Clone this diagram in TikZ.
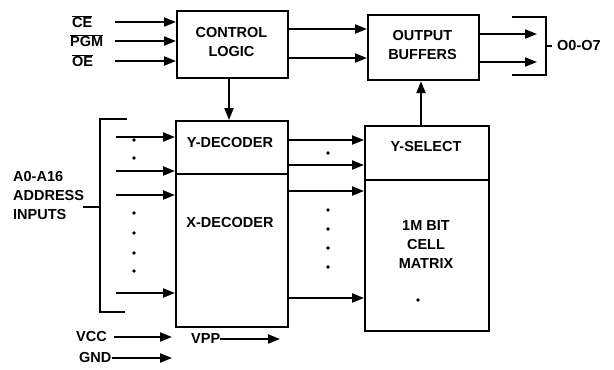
\documentclass[tikz,border=0pt]{standalone}
\usepackage{fontspec}
\setmainfont{Liberation Sans}
\usetikzlibrary{arrows.meta,calc}
\newcommand{\ovl}[1]{\(\overline{\hbox{#1}}\)}
\begin{document}
\begin{tikzpicture}[x=1pt,y=-1pt,
  every node/.style={font=\fontsize{14.5}{19}\selectfont\bfseries, inner sep=0pt},
  box/.style={draw, line width=2.2pt, anchor=north west, align=center},
  arr/.style={line width=2.2pt, -{Triangle[length=12pt,width=9pt]}},
  ln/.style={line width=2pt},
  dot/.style={fill, circle, inner sep=0pt, minimum size=3.8pt}]
\useasboundingbox (0,0) rectangle (614,370);
% boxes
\node[box, minimum width=111pt, minimum height=67pt] (ctl) at (176,10) {};
\node[align=center] at (231.5,42.5) {CONTROL\\LOGIC};
\node[box, minimum width=111pt, minimum height=65pt] (obuf) at (367,14) {};
\node[align=center] at (422.5,45) {OUTPUT\\BUFFERS};
\node[box, minimum width=112pt, minimum height=53pt] (ydec) at (175,120) {};
\node at (230,143) {Y-DECODER};
\node[box, minimum width=112pt, minimum height=153pt] (xdec) at (175,173) {};
\node at (230,223) {X-DECODER};
\node[box, minimum width=124pt, minimum height=54pt] (ysel) at (364,125) {};
\node at (426,147) {Y-SELECT};
\node[box, minimum width=124pt, minimum height=151pt] (cell) at (364,179) {};
\node[align=center] at (426,245) {1M BIT\\CELL\\MATRIX};
\node[dot] (cdot) at (418,300) {};
% control inputs
\node[anchor=west] (ce) at (72,22) {\ovl{CE}};
\node[anchor=west] (pgm) at (70,41) {\ovl{PGM}};
\node[anchor=west] (oe) at (72,61) {\ovl{OE}};
\coordinate (cein) at (115,22);
\coordinate (pgmin) at (115,41);
\coordinate (oein) at (115,61);
\draw[arr] (cein) -- (ctl.west |- cein);
\draw[arr] (pgmin) -- (ctl.west |- pgmin);
\draw[arr] (oein) -- (ctl.west |- oein);
% control to buffers and decoder
\draw[arr] (ctl.east |- 0,29) -- (obuf.west |- 0,29);
\draw[arr] (ctl.east |- 0,58) -- (obuf.west |- 0,58);
\draw[arr] (ctl.south -| 229,0) -- (ydec.north -| 229,0);
\draw[arr] (ysel.north -| 421,0) -- (obuf.south -| 421,0);
% outputs
\coordinate (o1) at (537,34);
\coordinate (o2) at (537,62);
\draw[arr] (obuf.east |- o1) -- (o1);
\draw[arr] (obuf.east |- o2) -- (o2);
\coordinate (rb) at (546,46);
\coordinate (rbe) at (552,46);
\draw[ln] (512,17) -- (546,17) -- (546,75) -- (512,75);
\node[anchor=west] (outs) at (557,46) {O0-O7};
\draw[ln] (rb) -- (rbe);
% address inputs
\node[anchor=north west, align=left] (addr) at (13,171) {A0-A16\\ADDRESS\\INPUTS};
\coordinate (lb) at (100,207);
\draw[ln] (127,119) -- (100,119) -- (100,312) -- (125,312);
\draw[ln] (83,207) -- (lb);
\foreach \y/\n in {137/a1,171/a2,195/a3,293/a4} {
  \coordinate (\n) at (116,\y);
  \draw[arr] (\n) -- (ydec.west |- \n);
}
\foreach \y in {140,158,213,233,253,271} \node[dot] at (134,\y) {};
% decoder to y-select
\foreach \y in {140,165,191,298} \draw[arr] (ydec.east |- 0,\y) -- (ysel.west |- 0,\y);
\foreach \y in {153,210,229,248,267} \node[dot] at (328,\y) {};
% power
\node[anchor=west] (vcc) at (76,337) {VCC};
\coordinate (vccs) at (114,337);
\coordinate (vcce) at (172,337);
\draw[arr] (vccs) -- (vcce);
\node[anchor=west] (gnd) at (79,358) {GND};
\coordinate (gnde) at (172,358);
\draw[arr] (gnd.east) -- (gnde);
\node[anchor=west] (vpp) at (191,339) {VPP};
\coordinate (vppe) at (280,339);
\draw[arr] (vpp.east) -- (vppe);
\end{tikzpicture}
\end{document}
